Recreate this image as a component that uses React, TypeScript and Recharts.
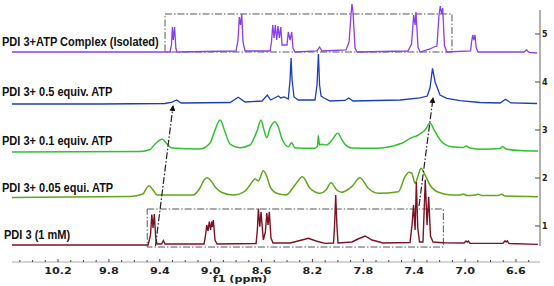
import React from "react";
import {
  ComposedChart, Line, XAxis, YAxis, ReferenceArea, ReferenceLine,
} from "recharts";

// [ppm, stacked intensity]
const COMPLEX: [number, number][] = [
  [10.562, 4.625], [9.32, 4.625], [9.308, 4.771], [9.301, 5.146], [9.294, 4.875], [9.284, 5.146], [9.274, 4.708], [9.265, 4.625],
  [8.801, 4.646], [8.785, 4.875], [8.775, 5.354], [8.765, 5.188], [8.756, 5.417], [8.746, 4.833], [8.73, 4.646],
  [8.533, 4.646], [8.522, 4.833], [8.512, 5.188], [8.502, 4.917], [8.492, 5.188], [8.481, 4.875], [8.471, 5.167], [8.46, 4.917],
  [8.449, 5.146], [8.439, 4.771], [8.4, 4.771], [8.39, 5.042], [8.376, 4.875], [8.363, 5.042], [8.353, 4.708], [8.337, 4.625],
  [8.164, 4.646], [8.144, 4.729], [8.125, 4.646], [7.936, 4.667], [7.912, 4.833], [7.897, 5.396], [7.889, 5.625], [7.881, 5.458],
  [7.865, 4.708], [7.849, 4.625], [7.449, 4.646], [7.421, 4.792], [7.404, 5.396], [7.393, 5.188], [7.386, 5.458], [7.37, 4.729],
  [7.354, 4.625], [7.276, 4.688], [7.244, 4.729], [7.221, 4.75], [7.205, 5.396], [7.195, 5.583], [7.185, 5.417], [7.176, 5.542],
  [7.162, 4.75], [7.142, 4.625], [6.957, 4.646], [6.949, 4.833], [6.94, 4.979], [6.931, 4.875], [6.922, 4.979], [6.912, 4.708],
  [6.898, 4.625], [6.537, 4.625], [6.515, 4.667], [6.497, 4.615], [6.434, 4.604],
];

const HALF_EQ: [number, number][] = [
  [10.562, 3.542], [9.87, 3.542], [9.359, 3.552], [9.304, 3.583], [9.267, 3.625], [9.233, 3.563], [8.848, 3.573], [8.783, 3.681],
  [8.73, 3.583], [8.596, 3.604], [8.555, 3.729], [8.528, 3.625], [8.468, 3.708], [8.449, 3.667], [8.423, 3.688], [8.39, 3.646],
  [8.376, 4.042], [8.368, 4.5], [8.36, 4.042], [8.345, 3.688], [8.311, 3.625], [8.18, 3.625], [8.164, 3.938], [8.153, 4.583],
  [8.144, 3.938], [8.132, 3.708], [8.109, 3.667], [8.062, 3.604], [7.944, 3.615], [7.915, 3.667], [7.881, 3.604], [7.511, 3.625],
  [7.354, 3.667], [7.297, 3.708], [7.276, 3.875], [7.256, 4.285], [7.236, 4.006], [7.197, 3.729], [7.144, 3.66], [7.04, 3.61],
  [6.883, 3.573], [6.725, 3.563], [6.682, 3.64], [6.639, 3.563], [6.434, 3.552],
];

const TENTH_EQ: [number, number][] = [
  [10.562, 2.542], [9.555, 2.552], [9.477, 2.594], [9.437, 2.708], [9.38, 2.806], [9.343, 2.708], [9.304, 2.625], [9.084, 2.604],
  [9.005, 2.729], [8.966, 2.998], [8.926, 3.208], [8.887, 2.958], [8.848, 2.708], [8.769, 2.631], [8.691, 2.688], [8.638, 2.965],
  [8.604, 3.208], [8.581, 3.0], [8.559, 2.84], [8.533, 3.042], [8.494, 3.173], [8.471, 3.083], [8.441, 2.827], [8.39, 2.652],
  [8.363, 2.735], [8.337, 2.625], [8.18, 2.619], [8.16, 2.667], [8.154, 2.881], [8.144, 2.688], [8.127, 2.702], [8.088, 2.688],
  [8.046, 2.792], [8.001, 2.931], [7.967, 2.792], [7.944, 2.702], [7.891, 2.625], [7.708, 2.619], [7.498, 2.723], [7.433, 2.827],
  [7.367, 2.896], [7.315, 2.998], [7.276, 3.139], [7.236, 2.965], [7.184, 2.756], [7.105, 2.652], [7.016, 2.635], [6.993, 2.667],
  [6.961, 2.625], [6.869, 2.598], [6.725, 2.615], [6.704, 2.656], [6.678, 2.604], [6.568, 2.573], [6.427, 2.563],
];

const TWENTIETH_EQ: [number, number][] = [
  [10.562, 1.594], [9.634, 1.615], [9.532, 1.667], [9.508, 1.771], [9.485, 1.84], [9.453, 1.75], [9.422, 1.646], [9.139, 1.646],
  [9.084, 1.792], [9.052, 1.958], [9.029, 2.006], [8.997, 1.938], [8.958, 1.792], [8.911, 1.698], [8.824, 1.646], [8.73, 1.729],
  [8.691, 1.854], [8.651, 1.979], [8.625, 1.938], [8.586, 2.152], [8.557, 2.021], [8.533, 1.819], [8.481, 1.681], [8.408, 1.646],
  [8.337, 1.854], [8.279, 2.027], [8.219, 1.785], [8.14, 1.681], [8.093, 1.75], [8.054, 1.902], [8.009, 1.75], [7.97, 1.702],
  [7.891, 1.819], [7.826, 2.006], [7.761, 1.785], [7.682, 1.681], [7.525, 1.715], [7.472, 2.027], [7.441, 2.119], [7.419, 2.098],
  [7.393, 1.89], [7.37, 2.042], [7.346, 2.202], [7.315, 2.063], [7.276, 1.854], [7.21, 1.702], [7.105, 1.646], [7.04, 1.646],
  [7.014, 1.667], [6.985, 1.635], [6.922, 1.646], [6.898, 1.66], [6.867, 1.635], [6.741, 1.635], [6.712, 1.66], [6.686, 1.625],
  [6.427, 1.61],
];

const FREE_PDI: [number, number][] = [
  [10.562, 0.604], [9.492, 0.604], [9.473, 0.813], [9.463, 1.24], [9.453, 0.958], [9.443, 1.25], [9.432, 0.75], [9.422, 0.625],
  [9.386, 0.625], [9.372, 0.698], [9.359, 0.625], [9.052, 0.625], [9.04, 0.813], [9.031, 1.021], [9.021, 0.896], [9.011, 1.094],
  [9.001, 0.917], [8.992, 1.094], [8.985, 0.979], [8.979, 1.125], [8.966, 0.708], [8.95, 0.625], [8.643, 0.635], [8.633, 0.917],
  [8.625, 1.365], [8.614, 0.985], [8.604, 1.292], [8.594, 0.958], [8.586, 0.708], [8.57, 0.875], [8.559, 1.271], [8.549, 1.021],
  [8.539, 1.298], [8.526, 0.75], [8.51, 0.646], [8.376, 0.646], [8.298, 0.698], [8.232, 0.744], [8.172, 0.687], [8.101, 0.639],
  [8.034, 0.646], [8.026, 1.021], [8.017, 1.646], [8.008, 1.021], [7.999, 0.646], [7.889, 0.667], [7.842, 0.729], [7.786, 0.792],
  [7.732, 0.708], [7.645, 0.646], [7.433, 0.656], [7.417, 1.021], [7.405, 1.438], [7.393, 0.917], [7.383, 1.917], [7.372, 0.958],
  [7.358, 0.667], [7.331, 0.667], [7.323, 1.229], [7.313, 1.964], [7.299, 1.021], [7.286, 1.604], [7.272, 0.792], [7.252, 0.667],
  [7.173, 0.652], [7.008, 0.646], [6.993, 0.687], [6.983, 0.667], [6.974, 0.687], [6.961, 0.639], [6.702, 0.639], [6.686, 0.692],
  [6.677, 0.667], [6.668, 0.692], [6.654, 0.635], [6.427, 0.618],
];

const X_TICKS = [
  10.5, 10.4, 10.3, 10.2, 10.1, 10.0, 9.9, 9.8, 9.7, 9.6, 9.5, 9.4, 9.3, 9.2, 9.1, 9.0, 8.9, 8.8, 8.7, 8.6, 8.5,
  8.4, 8.3, 8.2, 8.1, 8.0, 7.9, 7.8, 7.7, 7.6, 7.5, 7.4, 7.3, 7.2, 7.1, 7.0, 6.9, 6.8, 6.7, 6.6, 6.5,
];
const X_LABELED = [10.2, 9.8, 9.4, 9.0, 8.6, 8.2, 7.8, 7.4, 7.0, 6.6];
const Y_TICKS = [1, 2, 3, 4, 5];

const TRACE_LABELS = [
  "PDI 3+ATP Complex (Isolated)",
  "PDI 3+ 0.5 equiv. ATP",
  "PDI 3+ 0.1 equiv. ATP",
  "PDI 3+ 0.05 equi. ATP",
  "PDI 3 (1 mM)",
];
const LABEL_Y = [46, 96, 145, 192, 239];
const LABEL_X = [2, 2, 2, 2, 4];

const X_DOMAIN: [number, number] = [6.411, 10.562];
const Y_DOMAIN: [number, number] = [0.25, 5.7083];

const toRows = (pts: [number, number][]) => pts.map(([ppm, v]) => ({ ppm, v }));

const BOX = "#555";
const DASH = "7 2 1.5 2";

function XTick(props: any) {
  const { x, y, payload } = props;
  const labeled = X_LABELED.includes(payload.value);
  return (
    <g>
      <line x1={x} x2={x} y1={y - (labeled ? 3 : 2)} y2={y} stroke="#444" strokeWidth={1} />
      {labeled && (
        <text
          transform={`translate(${x},${y + 12}) scale(1.4,1)`}
          textAnchor="middle"
          fontFamily="DejaVu Sans"
          fontWeight="bold"
          fontSize={8}
          fill="#222"
        >
          {payload.value.toFixed(1)}
        </text>
      )}
    </g>
  );
}

function YTick(props: any) {
  const { x, y, payload } = props;
  return (
    <g>
      <line x1={x - 7} x2={x - 2} y1={y} y2={y} stroke="#444" />
      <text x={x} y={y + 3} fontFamily="DejaVu Sans" fontWeight="bold" fontSize={8} fill="#222">
        {payload.value}
      </text>
    </g>
  );
}

export default function App() {
  return (
    <div style={{ position: "absolute", left: 0, top: 0, width: 554, height: 286, background: "#fff" }}>
      <ComposedChart width={554} height={286} margin={{ top: 0, right: 0, bottom: 0, left: 12 }}>
        <XAxis
          type="number"
          dataKey="ppm"
          domain={X_DOMAIN}
          reversed
          allowDataOverflow
          ticks={X_TICKS}
          interval={0}
          tick={(p: any) => <XTick {...p} />}
          tickLine={false}
          tickSize={0}
          tickMargin={0}
          axisLine={{ stroke: "#aaa" }}
          height={24}
        />
        <YAxis
          type="number"
          orientation="right"
          domain={Y_DOMAIN}
          allowDataOverflow
          ticks={Y_TICKS}
          tick={(p: any) => <YTick {...p} />}
          tickLine={false}
          tickSize={0}
          tickMargin={2}
          axisLine={false}
          width={14}
        />
        <ReferenceLine
          segment={[{ x: X_DOMAIN[0], y: 5.5 }, { x: X_DOMAIN[0], y: 0.583 }]}
          stroke="#b0b0b0"
          strokeWidth={2}
          ifOverflow="visible"
        />
        <ReferenceArea x1={9.359} x2={7.103} y1={4.625} y2={5.417} fill="none" stroke={BOX} strokeDasharray={DASH} ifOverflow="visible" />
        <ReferenceArea x1={9.499} x2={7.171} y1={0.562} y2={1.354} fill="none" stroke={BOX} strokeDasharray={DASH} ifOverflow="visible" />

        <Line data={toRows(COMPLEX)} dataKey="v" type="linear" stroke="#8b3fe8" strokeWidth={1.3} dot={false} isAnimationActive={false} />
        <Line data={toRows(HALF_EQ)} dataKey="v" type="linear" stroke="#1a3fb8" strokeWidth={1.3} dot={false} isAnimationActive={false} />
        <Line data={toRows(TENTH_EQ)} dataKey="v" type="monotone" stroke="#30c030" strokeWidth={1.5} dot={false} isAnimationActive={false} />
        <Line data={toRows(TWENTIETH_EQ)} dataKey="v" type="monotone" stroke="#5fa61a" strokeWidth={1.5} dot={false} isAnimationActive={false} />
        <Line data={toRows(FREE_PDI)} dataKey="v" type="linear" stroke="#7a1424" strokeWidth={1.4} dot={false} isAnimationActive={false} />

        <ReferenceLine
          segment={[{ x: 9.434, y: 0.583 }, { x: 9.296, y: 3.5 }]}
          stroke="#222"
          strokeWidth={1.2}
          strokeDasharray={DASH}
          markerEnd="url(#arrowHead)"
          ifOverflow="visible"
        />
        <ReferenceLine
          segment={[{ x: 7.362, y: 1.417 }, { x: 7.252, y: 3.667 }]}
          stroke="#222"
          strokeWidth={1.2}
          strokeDasharray={DASH}
          markerEnd="url(#arrowHead)"
          ifOverflow="visible"
        />
      </ComposedChart>

      <svg
        width={554}
        height={286}
        style={{ position: "absolute", left: 0, top: 0, pointerEvents: "none" }}
      >
        <defs>
          <marker id="arrowHead" markerWidth="6" markerHeight="6" refX="5" refY="3" orient="auto" markerUnits="userSpaceOnUse">
            <path d="M0,0 L6,3 L0,6 z" fill="#111" />
          </marker>
        </defs>
        {TRACE_LABELS.map((t, i) => (
          <text
            key={t}
            transform={`translate(${LABEL_X[i]},${LABEL_Y[i]}) scale(0.92,1)`}
            fontFamily="Liberation Sans"
            fontWeight="bold"
            fontSize={12}
            fill="#111"
          >
            {t}
          </text>
        ))}
        <text
          transform="translate(240,282) scale(1.4,1)"
          textAnchor="middle"
          fontFamily="DejaVu Sans"
          fontWeight="bold"
          fontSize={8}
          fill="#222"
        >
          f1 (ppm)
        </text>
      </svg>
    </div>
  );
}
